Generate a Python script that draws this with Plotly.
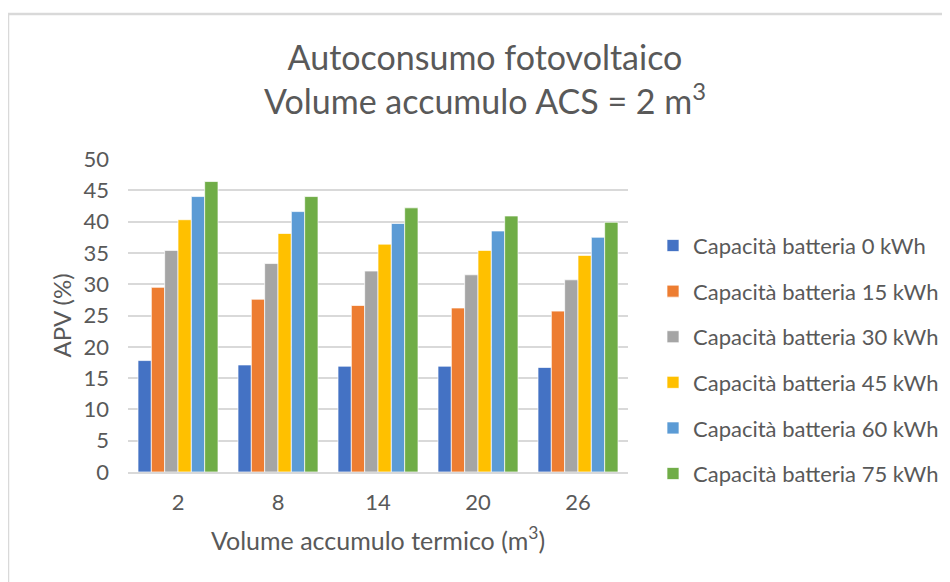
import plotly.graph_objects as go

# Volume accumulo termico (m3)
volumes = ["2", "8", "14", "20", "26"]

# APV (%) per capacita batteria
cap_0 = [17.8, 17.1, 16.9, 16.9, 16.7]
cap_15 = [29.5, 27.6, 26.6, 26.2, 25.7]
cap_30 = [35.4, 33.3, 32.1, 31.5, 30.7]
cap_45 = [40.3, 38.1, 36.4, 35.4, 34.6]
cap_60 = [44.0, 41.6, 39.7, 38.5, 37.5]
cap_75 = [46.4, 44.0, 42.2, 40.9, 39.9]

series = [
    ("Capacità batteria 0 kWh", cap_0, "#4472C4"),
    ("Capacità batteria 15 kWh", cap_15, "#ED7D31"),
    ("Capacità batteria 30 kWh", cap_30, "#A5A5A5"),
    ("Capacità batteria 45 kWh", cap_45, "#FFC000"),
    ("Capacità batteria 60 kWh", cap_60, "#5B9BD5"),
    ("Capacità batteria 75 kWh", cap_75, "#70AD47"),
]

FONT = "Lato"
GREY = "#595959"

fig = go.Figure()
for i, (name, vals, col) in enumerate(series):
    fig.add_trace(go.Bar(
        x=volumes, y=vals, name=name, legendgroup=str(i),
        marker=dict(color=col, line=dict(color="white", width=0.7)),
    ))

# page has an 8px body margin, so margins are offset by that
fig.update_layout(
    width=950, height=582,
    margin=dict(l=120, r=330, t=151, b=118),
    paper_bgcolor="white", plot_bgcolor="white",
    barmode="group", bargap=0.2, bargroupgap=0,
    font=dict(family=FONT, color=GREY, size=22),
    title=dict(
        text="Autoconsumo fotovoltaico<br>Volume accumulo ACS = 2 m<sup>3</sup>",
        x=0.714, xref="paper", xanchor="center",
        y=0.893, yanchor="top",
        font=dict(family=FONT, size=34, color=GREY),
    ),
    legend=dict(
        x=1.05, y=0.79, xanchor="left", yanchor="top",
        font=dict(size=22, color=GREY), tracegroupgap=14,
        itemclick=False,
    ),
    showlegend=True,
)

fig.update_yaxes(
    range=[0, 50], dtick=5, showgrid=True, gridcolor="#d9d9d9", gridwidth=1.5,
    zeroline=False, showline=False, ticks="", ticklabelstandoff=18,
    tickfont=dict(size=22),
)
fig.update_xaxes(
    showline=True, linecolor="#d9d9d9", linewidth=1.5, ticks="",
    ticklabelstandoff=10, tickfont=dict(size=22),
    title=dict(text="Volume accumulo termico (m<sup>3</sup>)",
               font=dict(size=25, color=GREY), standoff=18),
)

# y axis title placed by hand
fig.add_annotation(text="APV (%)", xref="paper", yref="paper",
                   x=-0.134, y=0.5, textangle=-90, showarrow=False,
                   xanchor="center", yanchor="middle",
                   font=dict(size=24, color=GREY))

# outer chart border (partially visible)
fig.add_shape(type="rect", xref="paper", yref="paper",
              x0=-0.24, x1=1.8, y0=-0.6, y1=1.463,
              line=dict(color="#d9d9d9", width=2.5), layer="below")

fig.write_html("out.html")
